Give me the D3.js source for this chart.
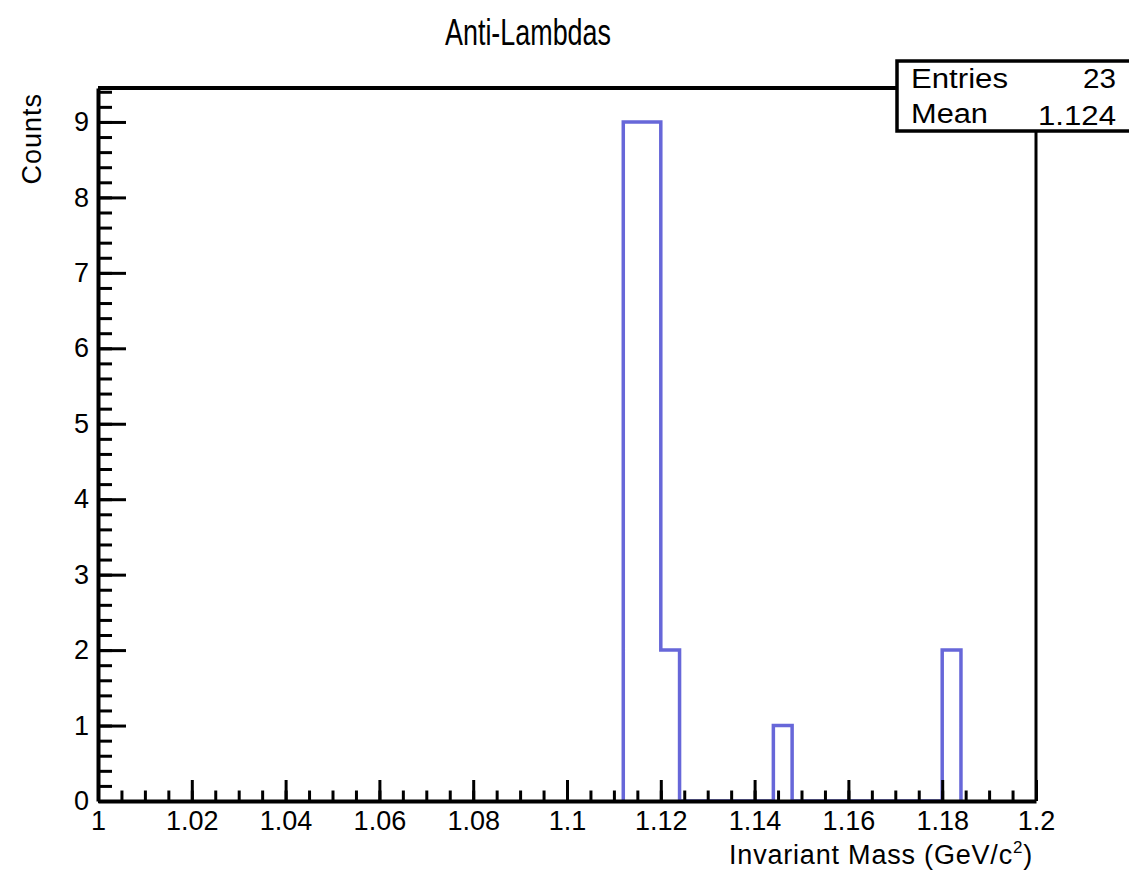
<!DOCTYPE html>
<html lang="en">
<head>
<meta charset="utf-8">
<title>Anti-Lambdas</title>
<script src="https://cdn.jsdelivr.net/npm/d3@7"></script>
<style>
  body { margin: 0; background: #fff; }
  text { font-family: "Liberation Sans", Arial, sans-serif; fill: #000; }
</style>
</head>
<body>
<script>
// histogram bins (only non-empty ones), bin width 0.004
var binLow = [1.112, 1.116, 1.120, 1.144, 1.180];
var binCounts = [9, 9, 2, 1, 2];
var binWidth = 0.004;
var xMajor = [1, 1.02, 1.04, 1.06, 1.08, 1.1, 1.12, 1.14, 1.16, 1.18, 1.2];
var xLabels = ["1", "1.02", "1.04", "1.06", "1.08", "1.1", "1.12", "1.14", "1.16", "1.18", "1.2"];
var yMajor = [0, 1, 2, 3, 4, 5, 6, 7, 8, 9];
var statNames = ["Entries", "Mean"];
var statValues = ["23", "1.124"];

var w = 1129, h = 870;
var padL = 98, padR = 1036, padT = 88, padB = 801;
var blue = "#6767d9";

var svg = d3.select("body").append("svg")
    .attr("width", w)
    .attr("height", h);

var x = d3.scaleLinear().domain([1, 1.2]).range([padL, padR]);
var y = d3.scaleLinear().domain([0, 9.45]).range([padB, padT]);

// minor tick values
var xMinor = d3.range(0, 41).map(function(i) { return 1 + i * 0.005; });
var yMinor = d3.range(0, 48).map(function(i) { return i * 0.2; });

// frame top + right
svg.append("line").attr("x1", padL).attr("x2", padR + 1.5).attr("y1", padT).attr("y2", padT)
    .attr("stroke", "#000").attr("stroke-width", 4);
svg.append("line").attr("x1", padR).attr("x2", padR).attr("y1", padT).attr("y2", padB)
    .attr("stroke", "#000").attr("stroke-width", 3);

// histogram outline as a step path
var pts = [];
binLow.forEach(function(lo, i) {
  var hi = lo + binWidth;
  var prevHi = i > 0 ? binLow[i - 1] + binWidth : null;
  if (prevHi === null || Math.abs(prevHi - lo) > 1e-9) pts.push([lo, 0]);
  pts.push([lo, binCounts[i]]);
  pts.push([hi, binCounts[i]]);
  var next = binLow[i + 1];
  if (next === undefined || Math.abs(next - hi) > 1e-9) pts.push([hi, 0]);
});
var line = d3.line().x(function(d) { return x(d[0]); }).y(function(d) { return y(d[1]); });
svg.append("path")
    .attr("d", line(pts))
    .attr("fill", "none")
    .attr("stroke", blue)
    .attr("stroke-width", 3.5)
    .attr("stroke-linejoin", "miter");

// x axis
var xAxis = d3.axisBottom(x)
    .tickValues(xMajor)
    .tickSizeInner(-21)
    .tickSizeOuter(0)
    .tickPadding(10)
    .tickFormat(function(d, i) { return xLabels[i]; });
var gx = svg.append("g").attr("transform", "translate(0," + padB + ")").call(xAxis);
svg.append("g").attr("transform", "translate(0," + padB + ")")
    .call(d3.axisBottom(x).tickValues(xMinor).tickSizeInner(-10.5).tickSizeOuter(0).tickFormat(""))
    .select(".domain").remove();
gx.selectAll("text").style("font-size", "27px").attr("font-family", null);

// y axis
var yAxis = d3.axisLeft(y)
    .tickValues(yMajor)
    .tickSizeInner(-28)
    .tickSizeOuter(0)
    .tickPadding(9)
    .tickFormat(d3.format("d"));
var gy = svg.append("g").attr("transform", "translate(" + padL + ",0)").call(yAxis);
svg.append("g").attr("transform", "translate(" + padL + ",0)")
    .call(d3.axisLeft(y).tickValues(yMinor).tickSizeInner(-14).tickSizeOuter(0).tickFormat(""))
    .select(".domain").remove();
gy.selectAll("text").style("font-size", "27px").attr("font-family", null);

svg.selectAll(".tick line").attr("stroke", "#000").attr("stroke-width", 3);
svg.selectAll(".domain").attr("stroke", "#000").attr("stroke-width", 4);

// title
svg.append("text")
    .attr("x", 528).attr("y", 45)
    .attr("text-anchor", "middle")
    .attr("textLength", 166)
    .attr("lengthAdjust", "spacingAndGlyphs")
    .style("font-size", "36px")
    .text("Anti-Lambdas");

// axis titles
var xt = svg.append("text")
    .attr("x", 1033).attr("y", 864)
    .attr("text-anchor", "end")
    .style("font-size", "27px")
    .style("letter-spacing", "0.8px");
xt.append("tspan").text("Invariant Mass (GeV/c");
xt.append("tspan").attr("dy", -11).style("font-size", "17px").text("2");
xt.append("tspan").attr("dy", 11).text(")");

svg.append("text")
    .attr("transform", "translate(41,93) rotate(-90)")
    .attr("text-anchor", "end")
    .style("font-size", "27px")
    .style("letter-spacing", "1px")
    .text("Counts");

// stats box
var nameLen = [97, 77], valLen = [33, 78];
var box = svg.append("g");
box.append("rect")
    .attr("x", 897).attr("y", 61).attr("width", 240).attr("height", 70)
    .attr("fill", "#fff").attr("stroke", "#000").attr("stroke-width", 3.5);
box.selectAll("text.name").data(statNames).enter().append("text")
    .attr("x", 911).attr("y", function(d, i) { return 88 + i * 35; })
    .attr("textLength", function(d, i) { return nameLen[i]; })
    .attr("lengthAdjust", "spacingAndGlyphs")
    .style("font-size", "27px")
    .text(function(d) { return d; });
box.selectAll("text.val").data(statValues).enter().append("text")
    .attr("x", 1116).attr("y", function(d, i) { return 88 + i * 37; })
    .attr("text-anchor", "end")
    .attr("textLength", function(d, i) { return valLen[i]; })
    .attr("lengthAdjust", "spacingAndGlyphs")
    .style("font-size", "27px")
    .text(function(d) { return d; });
</script>
</body>
</html>
